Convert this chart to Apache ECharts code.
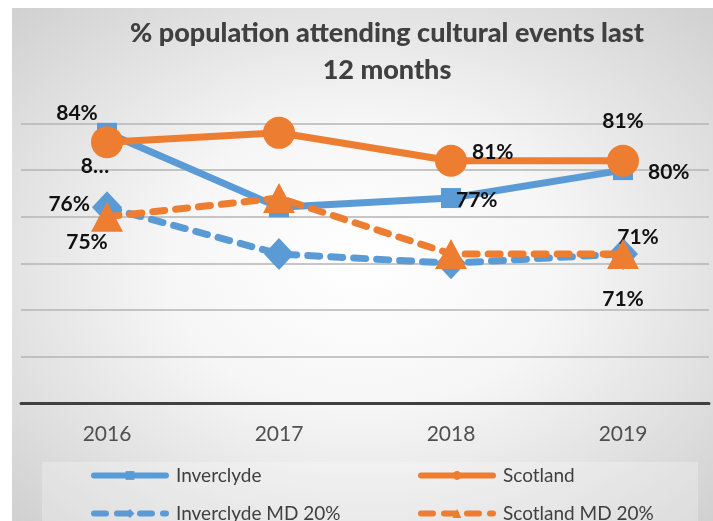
<!DOCTYPE html>
<html>
<head>
<meta charset="utf-8">
<script src="https://cdn.jsdelivr.net/npm/echarts@6/dist/echarts.min.js"></script>
<style>
  body { margin: 0; background: #fff; }
  .wrap { position: relative; width: 713px; height: 521px; }
  .bg {
    position: absolute; left: 12px; top: 8px; width: 701px; height: 513px;
    background: radial-gradient(ellipse at 50% 50%, #ffffff 0%, #f6f6f6 40%, #d0d0d0 100%);
  }
  #chart { position: absolute; left: 0; top: 0; width: 713px; height: 521px; }
</style>
</head>
<body>
<div class="wrap">
  <div class="bg"></div>
  <div id="chart"></div>
</div>
<script>
  // data
  var years = ['2016', '2017', '2018', '2019'];
  var inverclyde = [84, 76, 77, 80];
  var scotland = [83, 84, 81, 81];
  var inverclydeMD = [76, 71, 70, 71];
  var scotlandMD = [75, 77, 71, 71];

  var blue = '#5B9BD5';
  var orange = '#ED7D31';
  var txt = '#404040';
  var font = 'Lato';

  // label helper: pos = null hides the label
  function lab(pos, dx, dy, text) {
    if (!pos) return { show: false };
    var o = { show: true, position: pos, offset: [dx || 0, dy || 0],
      fontFamily: font, fontWeight: 'bold', fontSize: 21, color: '#111' };
    if (text) o.formatter = text;
    return o;
  }
  function withLabels(vals, labels) {
    return vals.map(function (v, i) { return { value: v, label: labels[i] }; });
  }
  // one legend per entry so the 2x2 layout is exact
  function leg(name, left, top) {
    return {
      left: left, top: top, itemWidth: 72, itemHeight: 11, itemGap: 0,
      data: [name], lineStyle: { width: 6, cap: 'round' },
      textStyle: { fontFamily: font, fontSize: 19, color: txt, padding: [0, 0, 0, 5] }
    };
  }

  var chart = echarts.init(document.getElementById('chart'));
  var pct = function (p) { return p.value + '%'; };

  chart.setOption({
    backgroundColor: 'transparent',
    animation: false,
    title: {
      text: '% population attending cultural events last\n12 months',
      left: 382, textAlign: 'center', top: 10,
      textStyle: { fontFamily: font, fontWeight: 900, fontSize: 27, color: txt, lineHeight: 37 }
    },
    graphic: [{
      type: 'rect', shape: { x: 42, y: 462, width: 656, height: 62 },
      style: { fill: 'rgba(255,255,255,0.25)' }, silent: true, z: 0
    }],
    legend: [
      leg('Inverclyde', 86, 461),
      leg('Inverclyde MD 20%', 86, 499),
      leg('Scotland', 413, 461),
      leg('Scotland MD 20%', 413, 499)
    ],
    grid: { left: 21, right: 4, top: 123.5, bottom: 118 },
    xAxis: {
      type: 'category', data: years, boundaryGap: true,
      axisLine: { lineStyle: { color: '#404040', width: 3 } },
      axisTick: { show: false },
      axisLabel: { margin: 21, fontFamily: font, fontSize: 21, color: '#505050' }
    },
    yAxis: {
      type: 'value', min: 55, max: 85, interval: 5,
      axisLabel: { show: false }, axisLine: { show: false }, axisTick: { show: false },
      splitLine: { lineStyle: { color: '#b4b4b4', width: 1.5 } }
    },
    series: [{
      name: 'Inverclyde', type: 'line', z: 3,
      symbol: 'rect', symbolSize: 20,
      itemStyle: { color: blue },
      lineStyle: { color: blue, width: 7 },
      label: { formatter: pct },
      data: withLabels(inverclyde, [
        lab('top', -30, 6), lab(null), lab('right', -10, 2), lab('right', 10, 2)
      ])
    }, {
      name: 'Scotland', type: 'line', z: 4,
      symbol: 'circle', symbolSize: 32,
      itemStyle: { color: orange },
      lineStyle: { color: orange, width: 7 },
      label: { formatter: pct },
      data: withLabels(scotland, [
        lab('bottom', -12, -7, '8…'), lab(null), lab('right', 0, -9), lab('top', 0, -8)
      ])
    }, {
      name: 'Inverclyde MD 20%', type: 'line', z: 3,
      symbol: 'diamond', symbolSize: [30, 32],
      itemStyle: { color: blue },
      lineStyle: { color: blue, width: 7, type: [12, 11], cap: 'round' },
      label: { formatter: pct },
      data: withLabels(inverclydeMD, [
        lab('left', 3, -3), lab(null), lab(null), lab('top', 15, 15)
      ])
    }, {
      name: 'Scotland MD 20%', type: 'line', z: 4,
      symbol: 'triangle', symbolSize: [32, 30],
      itemStyle: { color: orange },
      lineStyle: { color: orange, width: 7, type: [12, 11], cap: 'round' },
      label: { formatter: pct },
      data: withLabels(scotlandMD, [
        lab('bottom', -20, -5), lab(null), lab(null), lab('bottom', 0, 15)
      ])
    }]
  });
</script>
</body>
</html>
